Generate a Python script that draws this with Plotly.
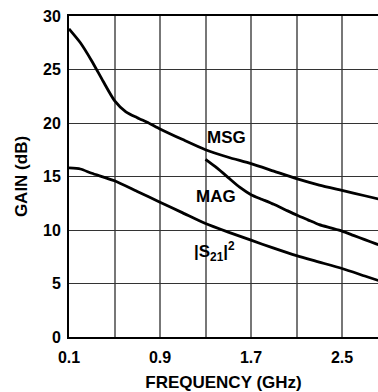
import plotly.graph_objects as go

# Data
freq_msg = [0.1, 0.2, 0.3, 0.4, 0.5, 0.6, 0.7, 0.8, 0.9, 1.1, 1.3, 1.5, 1.7, 1.9, 2.1, 2.3, 2.5, 2.7, 2.9]
gain_msg = [28.8, 27.5, 25.8, 23.9, 22.1, 21.05, 20.5, 20.0, 19.45, 18.45, 17.5, 16.8, 16.2, 15.5, 14.8, 14.2, 13.7, 13.2, 12.7]

freq_mag = [1.3, 1.4, 1.5, 1.6, 1.7, 1.8, 1.9, 2.0, 2.1, 2.2, 2.3, 2.4, 2.5, 2.6, 2.7, 2.8, 2.9]
gain_mag = [16.6, 15.8, 14.9, 14.0, 13.3, 12.85, 12.4, 11.9, 11.4, 10.95, 10.5, 10.2, 9.9, 9.5, 9.1, 8.7, 8.3]

freq_s21 = [0.1, 0.2, 0.3, 0.5, 0.7, 0.9, 1.1, 1.3, 1.5, 1.7, 1.9, 2.1, 2.3, 2.5, 2.7, 2.9]
gain_s21 = [15.8, 15.7, 15.3, 14.6, 13.6, 12.6, 11.6, 10.6, 9.8, 9.05, 8.3, 7.6, 7.0, 6.4, 5.7, 5.0]

x_tickvals = [0.1, 0.9, 1.7, 2.5]
x_ticktext = ["0.1", "0.9", "1.7", "2.5"]
x_gridvals = [0.1, 0.5, 0.9, 1.3, 1.7, 2.1, 2.5, 2.9]
y_tickvals = [0, 5, 10, 15, 20, 25, 30]

labels = [("MSG", 1.485, 18.65), ("MAG", 1.39, 13.15), ("|S<sub>21</sub>|<sup>2</sup>", 1.38, 8.0)]

FONT = "Liberation Sans, Arial, sans-serif"

fig = go.Figure()
for xs, ys in [(freq_msg, gain_msg), (freq_mag, gain_mag), (freq_s21, gain_s21)]:
    fig.add_trace(go.Scatter(x=xs, y=ys, mode="lines",
                             line=dict(color="black", width=2.8, shape="spline", smoothing=0.6),
                             showlegend=False, hoverinfo="skip"))

for txt, lx, ly in labels:
    fig.add_annotation(x=lx, y=ly, text=txt, showarrow=False,
                       font=dict(family=FONT, size=17, color="black", weight="bold"))

fig.update_layout(
    width=378, height=392,
    margin=dict(l=69, r=0, t=16, b=55),
    paper_bgcolor="white", plot_bgcolor="white",
    font=dict(family=FONT, color="black"),
    xaxis=dict(range=[0.1, 0.1 + 309 * 0.4 / 45.5], tickvals=x_tickvals, ticktext=x_ticktext,
               showgrid=True, gridcolor="#777", gridwidth=1.5,
               minor=dict(tickvals=x_gridvals, showgrid=True, gridcolor="#777", gridwidth=1.5, ticks=""),
               showline=True, linecolor="black", linewidth=2, mirror=True,
               ticks="", ticklabelstandoff=5, zeroline=False,
               tickfont=dict(family=FONT, size=16, weight="bold"),
               title=dict(text="FREQUENCY (GHz)", standoff=12,
                          font=dict(family=FONT, size=17, weight="bold"))),
    yaxis=dict(range=[0, 30], tickvals=y_tickvals,
               showgrid=True, gridcolor="#333", gridwidth=1,
               showline=True, linecolor="black", linewidth=2, mirror=False,
               ticks="", zeroline=False, ticklabelstandoff=3,
               tickfont=dict(family=FONT, size=16, weight="bold"),
               title=dict(text="GAIN (dB)", standoff=11,
                          font=dict(family=FONT, size=17, weight="bold"))),
)

fig.write_html("out.html", config={"displayModeBar": False},
               post_script="document.body.style.margin='0';document.body.style.overflow='hidden';")
